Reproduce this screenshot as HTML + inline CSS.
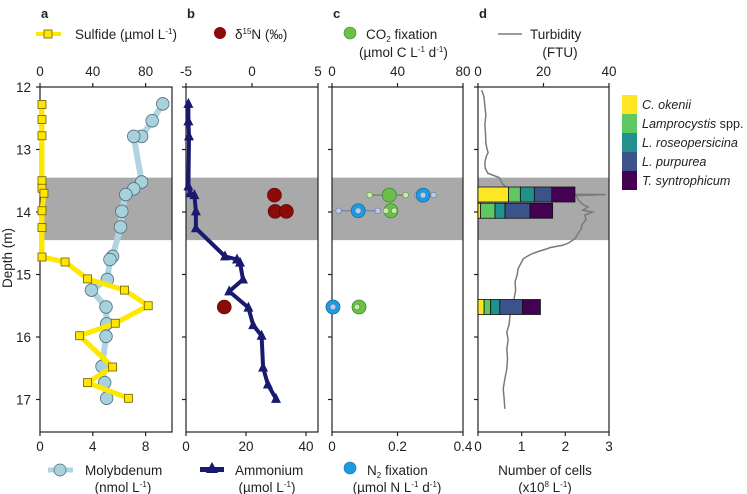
<!DOCTYPE html>
<html><head><meta charset="utf-8"><style>
body{margin:0;background:#fff;}
svg{display:block;font-family:"Liberation Sans",Arial,sans-serif;}
</style></head><body>
<svg id="chart" width="747" height="494" viewBox="0 0 747 494">
</svg>
<script>
// ---- Data ----
const sulfideDepth = [12.28,12.52,12.78,13.5,13.62,13.7,13.98,14.25,14.72,14.8,15.07,15.25,15.5,15.78,15.98,16.48,16.73,16.98];
const sulfideValue = [1.5,1.5,1.5,1.5,1.5,3,1.5,1.5,1.5,19,36,64,82,57,30,55,36,67];
const molyDepth = [12.27,12.54,12.79,12.79,13.52,13.63,13.72,13.99,14.24,14.71,14.76,15.08,15.25,15.52,15.79,15.99,16.47,16.73,16.98];
const molyValue = [9.3,8.5,7.7,7.1,7.7,7.1,6.5,6.2,6.1,5.5,5.3,5.1,3.9,5.0,5.05,5.0,4.7,4.9,5.05];
const ammDepth = [12.27,12.55,12.79,13.59,13.7,13.73,13.99,14.26,14.71,14.76,14.81,15.08,15.27,15.53,15.81,15.98,16.49,16.76,16.99];
const ammValue = [0.8,0.8,1.0,0.8,1.4,2.8,3.3,3.3,13,17,18,19,14.4,20.8,22.4,25.2,25.7,27.3,30];
const d15NDepth = [13.73,13.99,13.99,15.52];
const d15NValue = [1.7,1.75,2.6,-2.1];
const co2Depth = [13.73,13.98,15.52];
const co2Value = [35,36,16.5];
const co2Low = [23,33,16.5];
const co2High = [45,38,16.5];
const n2Depth = [13.73,13.98,15.52];
const n2Value = [0.278,0.08,0.003];
const n2Low = [0.26,0.02,0.003];
const n2High = [0.31,0.14,0.003];
const turbDepth = [12.05,12.15,12.3,12.45,12.6,12.75,12.9,13.0,13.05,13.1,13.2,13.3,13.38,13.45,13.55,13.65,13.71,13.72,13.74,13.8,13.88,13.92,13.97,14.0,14.05,14.12,14.2,14.27,14.35,14.43,14.5,14.53,14.57,14.59,14.63,14.67,14.71,14.75,14.83,14.91,15.0,15.12,15.25,15.39,15.5,15.65,15.8,15.92,16.05,16.19,16.35,16.51,16.67,16.83,17.0,17.15];
const turbValue = [1.1,1.8,2.1,2.4,2.1,2.3,2.4,2.8,3.1,2.6,2.1,2.2,3.0,6.5,7.5,9.5,14,39,30,30.5,32,33.6,32,35,32.6,33,31.8,31.5,30.5,29.6,27.5,26,22,21,18.5,16.4,15,13.8,13,12.2,12,11.3,11.5,11,10.5,9.8,9.5,8.8,9.2,8.8,9.0,8.8,8.2,7.7,8.0,8.2];
const cellDepth = [13.72,13.98,15.52];
const speciesNames = ["C. okenii","Lamprocystis spp.","L. roseopersicina","L. purpurea","T. syntrophicum"];
const cellOkenii = [0.70,0.06,0.14];
const cellLamp = [0.27,0.33,0.15];
const cellRos = [0.32,0.23,0.21];
const cellPurp = [0.40,0.57,0.52];
const cellSyn = [0.53,0.52,0.41];
const depthTicks = [12,13,14,15,16,17];

// ---- Layout ----
const NS="http://www.w3.org/2000/svg";
const svg=document.getElementById('chart');
const Y0=87, PXM=62.5, YB=432;
const yScale=d=>Y0+(d-12)*PXM;
const panels=[[40,172],[186,318],[332,463],[478,609]];
function xs(p,min,max){const [a,b]=panels[p];return v=>a+(v-min)/(max-min)*(b-a);}
const xSulf=xs(0,0,100), xMo=xs(0,0,10), xD15=xs(1,-5,5), xAmm=xs(1,0,44),
      xCO2=xs(2,0,80), xN2=xs(2,0,0.4), xTurb=xs(3,0,40), xCell=xs(3,0,3);
function el(tag,attrs,parent){const e=document.createElementNS(NS,tag);for(const k in attrs)e.setAttribute(k,attrs[k]);(parent||svg).appendChild(e);return e;}
function txt(x,y,s,attrs,parent){const t=el('text',Object.assign({x:x,y:y,'font-size':13,fill:'#222'},attrs||{}),parent);t.innerHTML=s;return t;}

// shaded band
panels.forEach((p,i)=>{
  const r=el('rect',{x:p[0],y:yScale(13.45),width:p[1]-p[0],height:yScale(14.45)-yScale(13.45),fill:'#a9a9a9'});
  
  
});

// frames, ticks
const topTicks=[[0,40,80],[-5,0,5],[0,40,80],[0,20,40]];
const topFns=[xSulf,xD15,xCO2,xTurb];
const botTicks=[[0,4,8],[0,20,40],[0,0.2,0.4],[0,1,2,3]];
const botFns=[xMo,xAmm,xN2,xCell];
panels.forEach((p,i)=>{
  const g=el('g',{});
  
  
  el('rect',{x:p[0],y:Y0,width:p[1]-p[0],height:YB-Y0,fill:'none',stroke:'#222','stroke-width':1.2},g);
  depthTicks.forEach(d=>{el('line',{x1:p[0]-4,x2:p[0],y1:yScale(d),y2:yScale(d),stroke:'#222','stroke-width':1.2},g);});
  topTicks[i].forEach(v=>{const x=topFns[i](v);el('line',{x1:x,x2:x,y1:Y0-4,y2:Y0,stroke:'#222','stroke-width':1.2},g);
    const t=txt(x,76,String(v),{'text-anchor':'middle','font-size':13.5},g);
    });
  botTicks[i].forEach(v=>{const x=botFns[i](v);el('line',{x1:x,x2:x,y1:YB,y2:YB+4,stroke:'#222','stroke-width':1.2},g);
    const t=txt(x,451,String(v),{'text-anchor':'middle','font-size':13.5},g);
    });
  const lt=txt(p[0]+1,18,'abcd'[i],{'font-weight':'bold','font-size':13},g);
  
});
depthTicks.forEach(d=>{const t=txt(31,yScale(d)+5,String(d),{'text-anchor':'end','font-size':13.5});
  });
const yt=txt(0,0,'Depth (m)',{'text-anchor':'middle','font-size':13.5,transform:'translate(12,258) rotate(-90)'});


function poly(xsArr,ysArr,attrs,name){const pts=xsArr.map((x,i)=>x+','+ysArr[i]).join(' ');
  const e=el('polyline',Object.assign({points:pts,fill:'none','stroke-linejoin':'round'},attrs));
  return e;}

// Panel a: molybdenum
poly(molyValue.map(xMo),molyDepth.map(yScale),{stroke:'#b0d4e0','stroke-width':6},'molybdenum-line');
molyValue.forEach((v,i)=>{const c=el('circle',{cx:xMo(v),cy:yScale(molyDepth[i]),r:6.3,fill:'#a8d1de',stroke:'#4d6e7a','stroke-width':0.8});
  });
// sulfide
poly(sulfideValue.map(xSulf),sulfideDepth.map(yScale),{stroke:'#ffe800','stroke-width':5},'sulfide-line');
sulfideValue.forEach((v,i)=>{const r=el('rect',{x:xSulf(v)-4,y:yScale(sulfideDepth[i])-4,width:8,height:8,fill:'#ffe600',stroke:'#6b5e00','stroke-width':0.8});
  });

// Panel b: ammonium
poly(ammValue.map(xAmm),ammDepth.map(yScale),{stroke:'#191970','stroke-width':4},'ammonium-line');
ammValue.forEach((v,i)=>{const x=xAmm(v),y=yScale(ammDepth[i]);
  const t=el('polygon',{points:`${x},${y-6} ${x-5},${y+4} ${x+5},${y+4}`,fill:'#191970'});
  });
d15NValue.forEach((v,i)=>{const c=el('circle',{cx:xD15(v),cy:yScale(d15NDepth[i]),r:7,fill:'#8b0a0a',stroke:'#5a0000','stroke-width':0.6});
  });

// Panel c: CO2 and N2 fixation
n2Value.forEach((v,i)=>{const y=yScale(n2Depth[i]);
  const ln=el('line',{x1:xN2(n2Low[i]),x2:xN2(n2High[i]),y1:y,y2:y,stroke:'#6a7a9a','stroke-width':1});
  
  [n2Low[i],n2High[i]].forEach(e=>{if(n2High[i]>n2Low[i]){const s=el('circle',{cx:xN2(e),cy:y,r:2.8,fill:'#b9cce8',stroke:'#6a7a9a','stroke-width':0.6});
    }});
  const c=el('circle',{cx:xN2(v),cy:y,r:7,fill:'#1e9be0',stroke:'#1a6fa8','stroke-width':0.8});
  
  const ci=el('circle',{cx:xN2(v),cy:y,r:2.8,fill:'#b9cce8',stroke:'#6a7a9a','stroke-width':0.5});
  
});
co2Value.forEach((v,i)=>{const y=yScale(co2Depth[i]);
  if(co2High[i]>co2Low[i]){const ln=el('line',{x1:xCO2(co2Low[i]),x2:xCO2(co2High[i]),y1:y,y2:y,stroke:'#5a7a50','stroke-width':1});
    }
  const c=el('circle',{cx:xCO2(v),cy:y,r:7,fill:'#6cc04a',stroke:'#3f8a2a','stroke-width':0.8});
  
  [co2Low[i],co2High[i]].forEach(e=>{const s=el('circle',{cx:xCO2(e)+(co2High[i]===co2Low[i]?(e===co2Low[i]?-2:2):0),cy:y,r:2.8,fill:'#c8ecb0',stroke:'#5a9a40','stroke-width':0.6});
    });
});

// Panel d: turbidity
poly(turbValue.map(xTurb),turbDepth.map(yScale),{stroke:'#7a7a7a','stroke-width':1.5,'stroke-linejoin':'miter'},'turbidity-line');
const speciesColors=['#fde725','#5ec962','#21918c','#3b528b','#440154'];
const cellSeries=[cellOkenii,cellLamp,cellRos,cellPurp,cellSyn];
cellDepth.forEach((d,i)=>{let acc=0;const y=yScale(d);
  cellSeries.forEach((s,k)=>{const x1=xCell(acc);acc+=s[i];const x2=xCell(acc);
    const r=el('rect',{x:x1,y:y-7.5,width:x2-x1,height:15,fill:speciesColors[k],stroke:'#111','stroke-width':0.8});
    });
});
// species legend
speciesNames.forEach((n,k)=>{const g=el('g',{});
  
  el('rect',{x:622,y:95+k*19,width:15,height:19,fill:speciesColors[k]},g);
  let label=n;
  if(n==='Lamprocystis spp.') label='<tspan font-style="italic">Lamprocystis</tspan> spp.';
  else label='<tspan font-style="italic">'+n+'</tspan>';
  txt(642,109+k*19,label,{'font-size':12.6},g);
});

// Top legends
function lg(name,build){const g=el('g',{});build(g);}
lg('legend-sulfide',g=>{el('line',{x1:36,x2:61,y1:34,y2:34,stroke:'#ffe800','stroke-width':4},g);
  el('rect',{x:44,y:30,width:8,height:8,fill:'#ffe600',stroke:'#6b5e00','stroke-width':0.8},g);
  txt(75,39,'Sulfide (µmol L<tspan font-size="8" dy="-5">-1</tspan><tspan dy="5">)</tspan>',{'font-size':13.5},g);});
lg('legend-d15n',g=>{el('circle',{cx:220,cy:33,r:6,fill:'#8b0a0a'},g);
  txt(235,39,'δ<tspan font-size="8" dy="-5">15</tspan><tspan dy="5">N (‰)</tspan>',{'font-size':13.5},g);});
lg('legend-co2-fixation',g=>{el('circle',{cx:350,cy:33,r:6,fill:'#6cc04a',stroke:'#3f8a2a','stroke-width':0.6},g);
  txt(366,39,'CO<tspan font-size="8" dy="3">2</tspan><tspan dy="-3"> fixation</tspan>',{'font-size':13.5},g);
  txt(359,57,'(µmol C L<tspan font-size="8" dy="-5">-1</tspan><tspan dy="5"> d</tspan><tspan font-size="8" dy="-5">-1</tspan><tspan dy="5">)</tspan>',{'font-size':13.5},g);});
lg('legend-turbidity',g=>{el('line',{x1:498,x2:522,y1:34,y2:34,stroke:'#7a7a7a','stroke-width':1.5},g);
  txt(530,39,'Turbidity',{'font-size':13.5},g);txt(560,57,'(FTU)',{'font-size':13.5,'text-anchor':'middle'},g);});
// Bottom legends
lg('legend-molybdenum',g=>{el('line',{x1:48,x2:73,y1:470,y2:470,stroke:'#b0d4e0','stroke-width':5},g);
  el('circle',{cx:60,cy:470,r:6,fill:'#a8d1de',stroke:'#4d6e7a','stroke-width':0.8},g);
  txt(85,475,'Molybdenum',{'font-size':13.5},g);
  txt(123,492,'(nmol L<tspan font-size="8" dy="-5">-1</tspan><tspan dy="5">)</tspan>',{'font-size':13.5,'text-anchor':'middle'},g);});
lg('legend-ammonium',g=>{el('rect',{x:200,y:467,width:24,height:5,fill:'#191970'},g);
  el('polygon',{points:'212,462 206,473 218,473',fill:'#191970'},g);
  txt(235,475,'Ammonium',{'font-size':13.5},g);
  txt(267,492,'(µmol L<tspan font-size="8" dy="-5">-1</tspan><tspan dy="5">)</tspan>',{'font-size':13.5,'text-anchor':'middle'},g);});
lg('legend-n2-fixation',g=>{el('circle',{cx:350,cy:468,r:6,fill:'#1e9be0',stroke:'#1a6fa8','stroke-width':0.6},g);
  txt(367,475,'N<tspan font-size="8" dy="3">2</tspan><tspan dy="-3"> fixation</tspan>',{'font-size':13.5},g);
  txt(397,492,'(µmol N L<tspan font-size="8" dy="-5">-1</tspan><tspan dy="5"> d</tspan><tspan font-size="8" dy="-5">-1</tspan><tspan dy="5">)</tspan>',{'font-size':13.5,'text-anchor':'middle'},g);});
lg('legend-cells',g=>{txt(545,475,'Number of cells',{'font-size':13.5,'text-anchor':'middle'},g);
  txt(545,492,'(x10<tspan font-size="8" dy="-5">8</tspan><tspan dy="5"> L</tspan><tspan font-size="8" dy="-5">-1</tspan><tspan dy="5">)</tspan>',{'font-size':13.5,'text-anchor':'middle'},g);});
</script>
</body></html>
